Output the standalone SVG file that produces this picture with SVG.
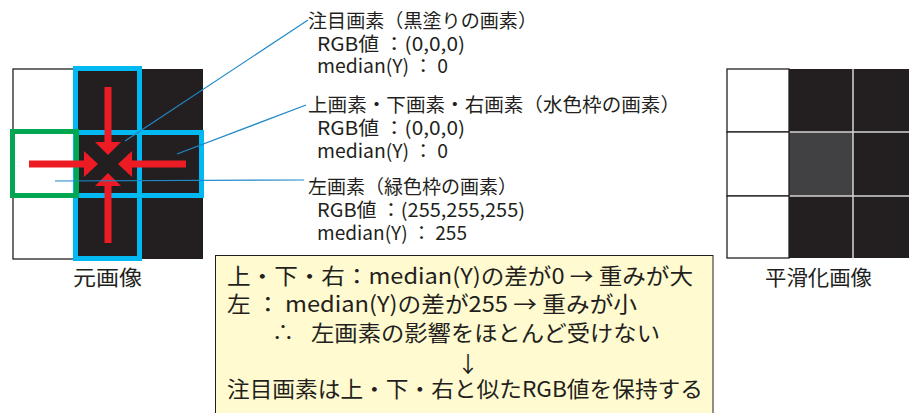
<svg xmlns="http://www.w3.org/2000/svg" width="909" height="413" viewBox="0 0 909 413">
<style>
  text { font-family: "Noto Sans CJK JP", "Noto Sans", sans-serif; fill: #231f20; }
  .t { font-size: 19px; }
  .b { font-size: 22px; }
  .lbl { font-size: 21px; }
  .wcell { fill: #ffffff; stroke: #231f20; stroke-width: 1.3; }
  .dcell { fill: #231f20; }
  .red { fill: #ed1c24; }
  .lead { stroke: #1e88c8; stroke-width: 1.2; fill: none; }
</style>
<rect width="909" height="413" fill="#ffffff"/>

<g id="original-image">
  <rect class="wcell" x="13" y="69" width="63" height="63"/>
  <rect class="wcell" x="13" y="132" width="63" height="63"/>
  <rect class="wcell" x="13" y="195" width="63" height="64"/>
  <rect class="dcell" x="76" y="69" width="127" height="190"/>
</g>

<g id="blue-frames" fill="none" stroke="#00b9f2" stroke-width="5">
  <rect x="75.5" y="68.5" width="64" height="190"/>
  <rect x="75.5" y="132.5" width="126" height="63"/>
</g>

<g id="green-frame">
  <rect x="12.5" y="131.5" width="64" height="64" fill="none" stroke="#00a650" stroke-width="5"/>
</g>

<g id="arrows">
  <rect class="red" x="29" y="160.5" width="57" height="7"/>
  <polygon class="red" points="84,151 98,164 84,177"/>
  <rect class="red" x="130" y="160.5" width="56" height="7"/>
  <polygon class="red" points="132,151 118,164 132,177"/>
  <rect class="red" x="104.5" y="87" width="7" height="57"/>
  <polygon class="red" points="95,142 108,155 121,142"/>
  <rect class="red" x="104.5" y="185" width="7" height="58"/>
  <polygon class="red" points="95,186 108,173 121,186"/>
</g>

<g id="connectors">
  <line class="lead" x1="125" y1="141" x2="308" y2="20"/>
  <line class="lead" x1="177" y1="154" x2="306" y2="105"/>
  <line class="lead" x1="55" y1="181" x2="304" y2="180"/>
</g>

<g id="label-center">
  <text class="t" x="308" y="28" textLength="229" lengthAdjust="spacingAndGlyphs">注目画素（黒塗りの画素）</text>
  <text class="t" x="317" y="51" textLength="148" lengthAdjust="spacingAndGlyphs">RGB値 ：(0,0,0)</text>
  <text class="t" x="317" y="73" textLength="131" lengthAdjust="spacingAndGlyphs">median(Y) ： 0</text>
</g>

<g id="label-blue">
  <text class="t" x="308" y="112" textLength="372" lengthAdjust="spacingAndGlyphs">上画素・下画素・右画素（水色枠の画素）</text>
  <text class="t" x="317" y="135" textLength="148" lengthAdjust="spacingAndGlyphs">RGB値 ：(0,0,0)</text>
  <text class="t" x="317" y="158" textLength="131" lengthAdjust="spacingAndGlyphs">median(Y) ： 0</text>
</g>

<g id="label-green">
  <text class="t" x="308" y="194" textLength="209" lengthAdjust="spacingAndGlyphs">左画素（緑色枠の画素）</text>
  <text class="t" x="317" y="217" textLength="208" lengthAdjust="spacingAndGlyphs">RGB値 ：(255,255,255)</text>
  <text class="t" x="317" y="240" textLength="150" lengthAdjust="spacingAndGlyphs">median(Y) ： 255</text>
</g>

<g id="caption-original">
  <text class="lbl" x="73" y="285" textLength="69" lengthAdjust="spacingAndGlyphs">元画像</text>
</g>

<g id="smoothed-image">
  <rect x="789" y="69" width="125" height="189" fill="#231f20"/>
  <rect x="789" y="132" width="64" height="64" fill="#414042"/>
  <g stroke="#d6d6d6" stroke-width="1.5">
    <line x1="853" y1="69" x2="853" y2="258"/>
    <line x1="789" y1="132" x2="909" y2="132"/>
    <line x1="789" y1="196" x2="909" y2="196"/>
  </g>
  <rect class="wcell" x="727" y="69" width="62" height="63"/>
  <rect class="wcell" x="727" y="132" width="62" height="64"/>
  <rect class="wcell" x="727" y="196" width="62" height="62"/>
</g>

<g id="caption-smoothed">
  <text class="lbl" x="765" y="285" textLength="107" lengthAdjust="spacingAndGlyphs">平滑化画像</text>
</g>

<g id="summary-box">
  <rect x="215.5" y="255.5" width="497.5" height="170" fill="#fffacf" stroke="#231f20" stroke-width="1"/>
  <text class="b" x="227" y="284" textLength="466" lengthAdjust="spacingAndGlyphs">上・下・右：median(Y)の差が0 → 重みが大</text>
  <text class="b" x="227" y="312" textLength="410" lengthAdjust="spacingAndGlyphs">左 ： median(Y)の差が255 → 重みが小</text>
  <text class="b" x="272" y="340">∴</text>
  <text class="b" x="311" y="341" textLength="349" lengthAdjust="spacingAndGlyphs">左画素の影響をほとんど受けない</text>
  <text class="b" x="468" y="372" text-anchor="middle">↓</text>
  <text class="b" x="227" y="397" textLength="476" lengthAdjust="spacingAndGlyphs">注目画素は上・下・右と似たRGB値を保持する</text>
</g>
</svg>
